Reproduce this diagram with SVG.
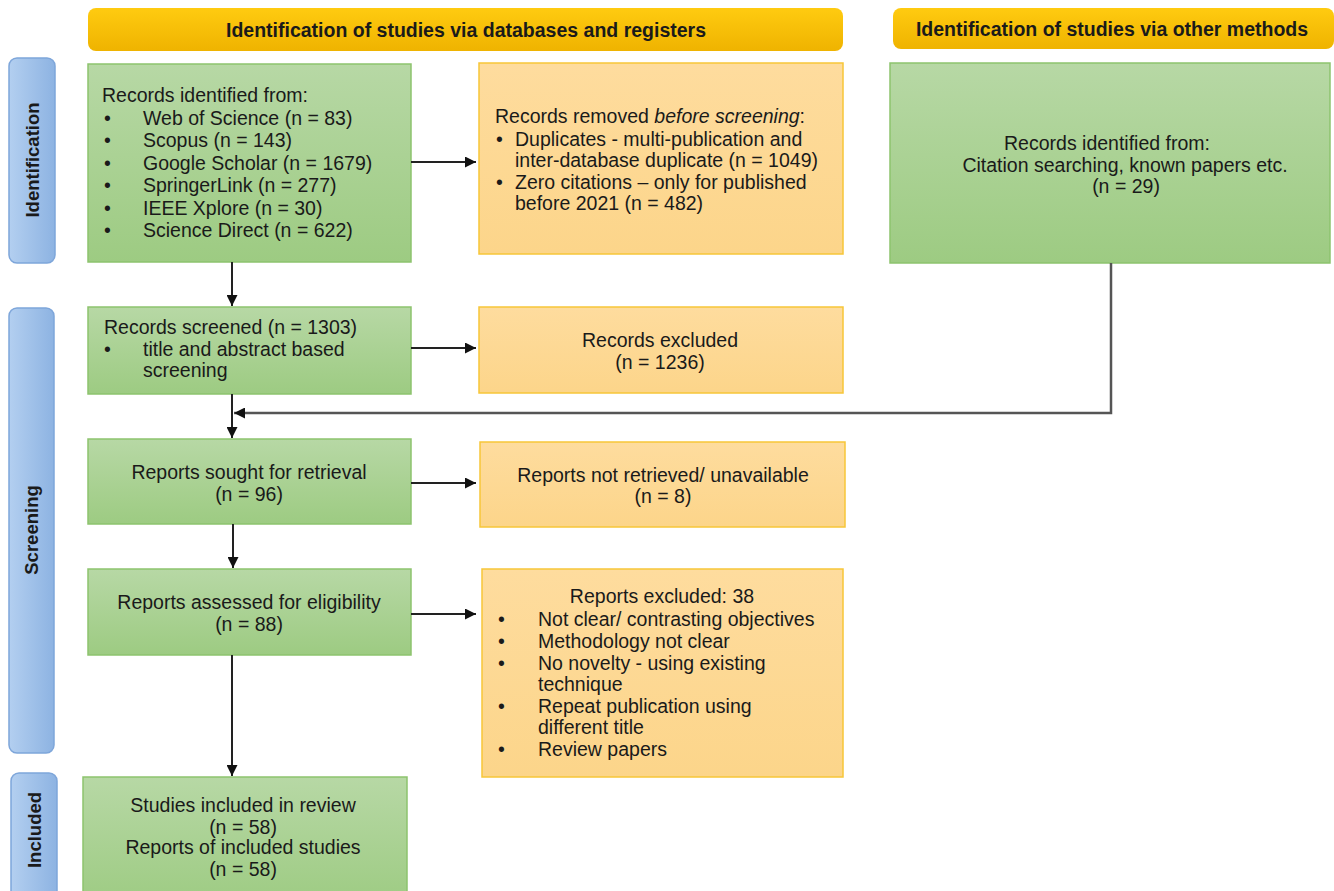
<svg xmlns="http://www.w3.org/2000/svg" width="1334" height="891" viewBox="0 0 1334 891">
<defs>
<linearGradient id="gGreen" x1="0" y1="0" x2="0" y2="1"><stop offset="0" stop-color="#b7d8a5"/><stop offset="1" stop-color="#9dcb82"/></linearGradient>
<linearGradient id="gOrange" x1="0" y1="0" x2="0" y2="1"><stop offset="0" stop-color="#fedc9e"/><stop offset="1" stop-color="#fcd58a"/></linearGradient>
<linearGradient id="gHead" x1="0" y1="0" x2="0" y2="1"><stop offset="0" stop-color="#ffcb10"/><stop offset="1" stop-color="#efb300"/></linearGradient>
<linearGradient id="gBlue" x1="0" y1="0" x2="1" y2="0"><stop offset="0" stop-color="#b3cff0"/><stop offset="1" stop-color="#8db3e2"/></linearGradient>
<marker id="arr" viewBox="0 0 10 10" refX="10" refY="5" markerWidth="11" markerHeight="11" markerUnits="userSpaceOnUse" orient="auto"><path d="M0,0 L10,5 L0,10 z" fill="#111"/></marker>
</defs>
<style>
text{font-family:"Liberation Sans",Arial,sans-serif;fill:#1a1a1a;font-size:19.5px}
.green{fill:url(#gGreen);stroke:#8dc36e;stroke-width:1.5}
.orange{fill:url(#gOrange);stroke:#f7c638;stroke-width:1.5}
.head{fill:url(#gHead)}
.blue{fill:url(#gBlue);stroke:#7ea6da;stroke-width:1.5}
.ht{font-weight:bold;font-size:19.5px;text-anchor:middle}
.side{font-weight:bold;font-size:18.5px;text-anchor:middle}
.c{text-anchor:middle}
.conn{stroke:#222;stroke-width:2;fill:none}
.conn2{stroke:#555;stroke-width:2.5;fill:none}
</style>
<rect width="1334" height="891" fill="#fff"/>

<g id="header-db"><rect class="head" x="88" y="8" width="755" height="43" rx="8"/><text class="ht" x="466" y="37">Identification of studies via databases and registers</text></g>
<g id="header-other"><rect class="head" x="893" y="8" width="441" height="41" rx="8"/><text class="ht" x="1112" y="36">Identification of studies via other methods</text></g>

<g id="side-identification"><rect class="blue" x="9" y="58" width="46" height="205" rx="8"/><text class="side" transform="translate(39,160) rotate(-90)">Identification</text></g>
<g id="side-screening"><rect class="blue" x="9" y="308" width="45" height="445" rx="8"/><text class="side" transform="translate(38,530) rotate(-90)">Screening</text></g>
<g id="side-included"><rect class="blue" x="11" y="773" width="46" height="130" rx="8"/><text class="side" transform="translate(41,830) rotate(-90)">Included</text></g>

<g id="records-identified">
<rect class="green" x="88" y="64" width="323" height="198"/>
<text x="102" y="102">Records identified from:</text>
<text x="104" y="125">•</text><text x="143" y="125">Web of Science (n = 83)</text>
<text x="104" y="147">•</text><text x="143" y="147">Scopus (n = 143)</text>
<text x="104" y="170">•</text><text x="143" y="170">Google Scholar (n = 1679)</text>
<text x="104" y="192">•</text><text x="143" y="192">SpringerLink (n = 277)</text>
<text x="104" y="215">•</text><text x="143" y="215">IEEE Xplore (n = 30)</text>
<text x="104" y="237">•</text><text x="143" y="237">Science Direct (n = 622)</text>
</g>

<g id="records-removed">
<rect class="orange" x="479" y="63" width="364" height="191"/>
<text x="495" y="123">Records removed <tspan font-style="italic">before screening</tspan>:</text>
<text x="496" y="146">•</text><text x="515" y="146">Duplicates - multi-publication and</text>
<text x="515" y="167">inter-database duplicate (n = 1049)</text>
<text x="496" y="189">•</text><text x="515" y="189">Zero citations – only for published</text>
<text x="515" y="210">before 2021 (n = 482)</text>
</g>

<g id="records-other">
<rect class="green" x="890" y="63" width="440" height="200"/>
<text x="1107" y="150" class="c">Records identified from:</text>
<text x="1125" y="172" class="c">Citation searching, known papers etc.</text>
<text x="1126" y="193" class="c">(n = 29)</text>
</g>

<g id="records-screened">
<rect class="green" x="88" y="307" width="323" height="87"/>
<text x="104" y="334">Records screened (n = 1303)</text>
<text x="104" y="356">•</text><text x="143" y="356">title and abstract based</text>
<text x="143" y="377">screening</text>
</g>

<g id="records-excluded">
<rect class="orange" x="479" y="307" width="364" height="86"/>
<text x="660" y="347" class="c">Records excluded</text>
<text x="660" y="369" class="c">(n = 1236)</text>
</g>

<g id="reports-sought">
<rect class="green" x="88" y="439" width="323" height="85"/>
<text x="249" y="479" class="c">Reports sought for retrieval</text>
<text x="249" y="501" class="c">(n = 96)</text>
</g>

<g id="reports-not-retrieved">
<rect class="orange" x="480" y="442" width="365" height="85"/>
<text x="663" y="482" class="c">Reports not retrieved/ unavailable</text>
<text x="663" y="503" class="c">(n = 8)</text>
</g>

<g id="reports-assessed">
<rect class="green" x="88" y="569" width="323" height="86"/>
<text x="249" y="609" class="c">Reports assessed for eligibility</text>
<text x="249" y="631" class="c">(n = 88)</text>
</g>

<g id="reports-excluded">
<rect class="orange" x="482" y="569" width="361" height="208"/>
<text x="662" y="603" class="c">Reports excluded: 38</text>
<text x="498" y="626">•</text><text x="538" y="626">Not clear/ contrasting objectives</text>
<text x="498" y="648">•</text><text x="538" y="648">Methodology not clear</text>
<text x="498" y="670">•</text><text x="538" y="670">No novelty - using existing</text>
<text x="538" y="691">technique</text>
<text x="498" y="713">•</text><text x="538" y="713">Repeat publication using</text>
<text x="538" y="734">different title</text>
<text x="498" y="756">•</text><text x="538" y="756">Review papers</text>
</g>

<g id="studies-included">
<rect class="green" x="83" y="777" width="324" height="130"/>
<text x="243" y="812" class="c">Studies included in review</text>
<text x="243" y="834" class="c">(n = 58)</text>
<text x="243" y="854" class="c">Reports of included studies</text>
<text x="243" y="876" class="c">(n = 58)</text>
</g>

<g id="connectors">
<line class="conn" x1="411" y1="162" x2="476" y2="162" marker-end="url(#arr)"/>
<line class="conn" x1="232" y1="262" x2="232" y2="306" marker-end="url(#arr)"/>
<line class="conn" x1="411" y1="348" x2="476" y2="348" marker-end="url(#arr)"/>
<line class="conn" x1="232" y1="394" x2="232" y2="438" marker-end="url(#arr)"/>
<polyline class="conn2" points="1111,263 1111,413 234,413" marker-end="url(#arr)"/>
<line class="conn" x1="411" y1="483" x2="476" y2="483" marker-end="url(#arr)"/>
<line class="conn" x1="233" y1="524" x2="233" y2="568" marker-end="url(#arr)"/>
<line class="conn" x1="411" y1="614" x2="476" y2="614" marker-end="url(#arr)"/>
<line class="conn" x1="232" y1="655" x2="232" y2="776" marker-end="url(#arr)"/>
</g>
</svg>
